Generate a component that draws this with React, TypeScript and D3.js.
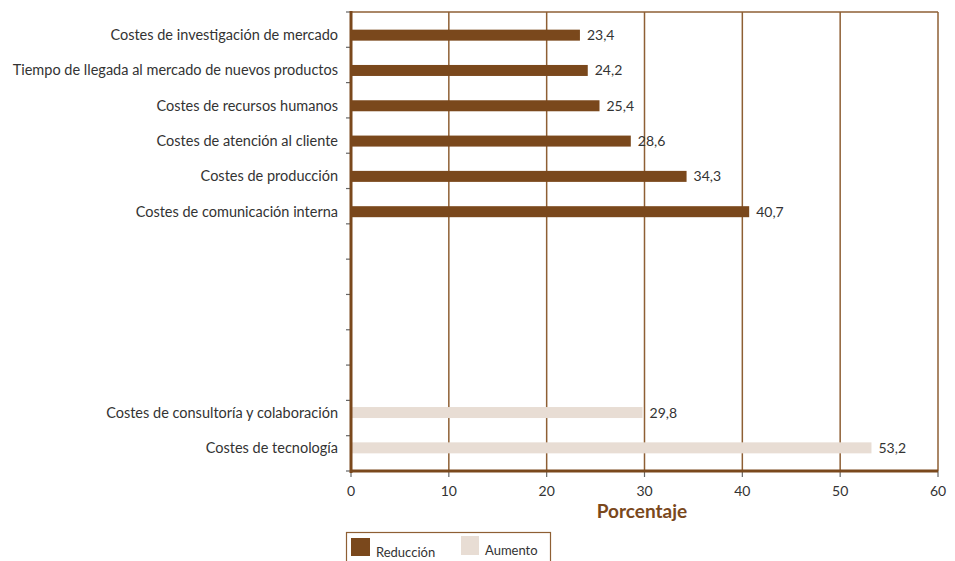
import React from "react";
import * as d3 from "d3";

const categories = [
  "Costes de investigación de mercado",
  "Tiempo de llegada al mercado de nuevos productos",
  "Costes de recursos humanos",
  "Costes de atención al cliente",
  "Costes de producción",
  "Costes de comunicación interna",
  " ",
  "  ",
  "   ",
  "    ",
  "     ",
  "Costes de consultoría y colaboración",
  "Costes de tecnología",
];
const reduccion: (number | null)[] = [23.4, 24.2, 25.4, 28.6, 34.3, 40.7, null, null, null, null, null, null, null];
const aumento: (number | null)[] = [null, null, null, null, null, null, null, null, null, null, null, 29.8, 53.2];
const xTicks = [0, 10, 20, 30, 40, 50, 60];

const BROWN = "#7a481c";
const GRID = "#8e5f34";
const BEIGE = "#e8ddd4";
const TEXT = "#333333";
const FONT = "Lato, 'Open Sans', sans-serif";

export default function App() {
  const W = 955, H = 561;
  const left = 351, right = 938, top = 12, bottom = 471;
  const x = d3.scaleLinear().domain([0, 60]).range([left, right]);
  const y = d3.scaleBand().domain(categories).range([top, bottom]).padding(0);
  const bw = 11;
  const fmt = (v: number) => v.toFixed(1).replace(".", ",");

  // centre of the visible bar in each category (for label alignment)
  const barCenter = (i: number) => {
    const mid = y(categories[i])! + y.bandwidth() / 2;
    if (reduccion[i] != null) return mid + bw / 2;
    if (aumento[i] != null) return mid - bw / 2;
    return mid;
  };

  return (
    <svg width={W} height={H} style={{ position: "absolute", left: 0, top: 0 }} fontFamily={FONT}>
      <rect width={W} height={H} fill="#fff" />
      {/* top border */}
      <line x1={left} x2={right} y1={top} y2={top} stroke={GRID} strokeWidth={1.5} />
      {/* gridlines */}
      {xTicks.filter((t) => t > 0).map((t) => (
        <line key={"g" + t} x1={x(t)} x2={x(t)} y1={top} y2={bottom} stroke={GRID} strokeWidth={1.5} />
      ))}
      {/* bars */}
      {categories.map((c, i) => {
        const y0 = y(c)!;
        const mid = y0 + y.bandwidth() / 2;
        const r = reduccion[i];
        const a = aumento[i];
        return (
          <g key={"b" + i}>
            {r != null && (
              <g>
                <rect x={x(0)} y={mid} width={x(r) - x(0)} height={bw} fill={BROWN} />
                <text x={x(r) + 7} y={mid + bw / 2 + 5} fontSize={14} fill={TEXT}>{fmt(r)}</text>
              </g>
            )}
            {a != null && (
              <g>
                <rect x={x(0)} y={mid - bw} width={x(a) - x(0)} height={bw} fill={BEIGE} />
                <text x={x(a) + 7} y={mid - bw / 2 + 5} fontSize={14} fill={TEXT}>{fmt(a)}</text>
              </g>
            )}
          </g>
        );
      })}
      {/* y ticks */}
      {d3.range(categories.length + 1).map((i) => {
        const yy = top + i * y.step();
        return <line key={"yt" + i} x1={left - 5} x2={left} y1={yy} y2={yy} stroke="#666" strokeWidth={1.2} />;
      })}
      {/* y labels */}
      {categories.map((c, i) => (
        <text key={"yl" + i} x={left - 13} y={barCenter(i) + 5} textAnchor="end" fontSize={14.5} fill={TEXT}>
          {c.trim()}
        </text>
      ))}
      {/* x ticks */}
      {xTicks.map((t) => (
        <g key={"xt" + t}>
          <line x1={x(t)} x2={x(t)} y1={bottom} y2={bottom + 6} stroke="#666" strokeWidth={1.2} />
          <text x={x(t)} y={bottom + 25} textAnchor="middle" fontSize={14} fill={TEXT}>{t}</text>
        </g>
      ))}
      {/* axes */}
      <line x1={left} x2={left} y1={top - 1} y2={bottom + 2} stroke={BROWN} strokeWidth={3} />
      <line x1={left - 1} x2={right} y1={bottom} y2={bottom} stroke={BROWN} strokeWidth={3} />
      {/* axis title */}
      <text x={642} y={518} textAnchor="middle" fontSize={19} fontWeight="bold" fill={BROWN}>Porcentaje</text>
      {/* legend */}
      <rect x={346.5} y={532.5} width={204} height={40} fill="#fff" stroke={GRID} strokeWidth={1.2} />
      <rect x={351} y={538} width={19} height={18} fill={BROWN} />
      <text x={376} y={557} fontSize={13} fill={TEXT}>Reducción</text>
      <rect x={461} y={536} width={18} height={19} fill={BEIGE} />
      <text x={485} y={555} fontSize={13} fill={TEXT}>Aumento</text>
    </svg>
  );
}
